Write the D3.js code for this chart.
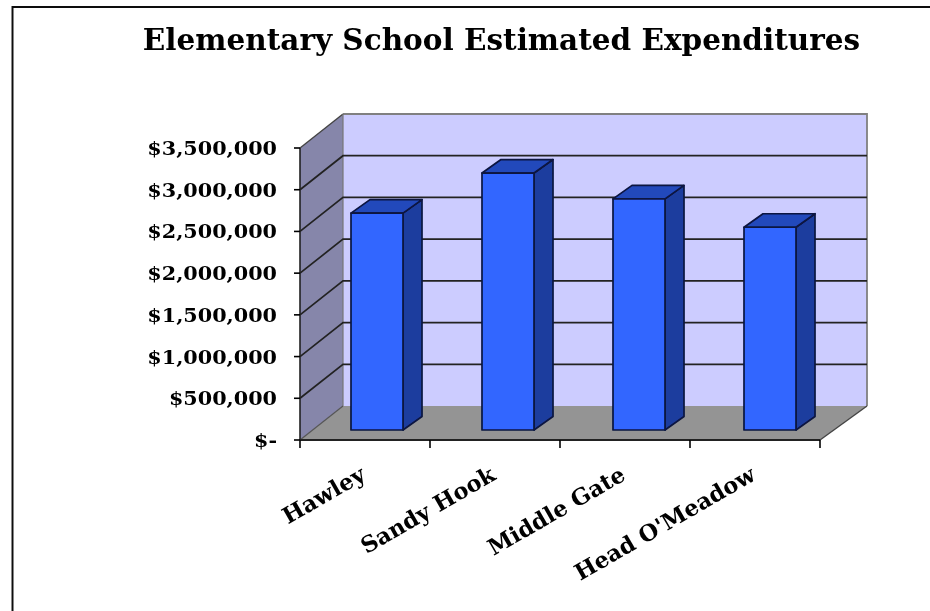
<!DOCTYPE html>
<html><head><meta charset="utf-8"><script src="https://cdn.jsdelivr.net/npm/d3@7"></script>
<style>html,body{margin:0;padding:0;background:#fff}svg{display:block}text{font-family:"DejaVu Serif","Liberation Serif",serif;font-weight:bold;fill:#000}</style></head><body>
<svg id="c" width="930" height="611"></svg>
<script>
const title = "Elementary School Estimated Expenditures";
const categories = ["Hawley","Sandy Hook","Middle Gate","Head O'Meadow"];
const values = [2600000,3080000,2770000,2430000];
const tickValues = [0,500000,1000000,1500000,2000000,2500000,3000000,3500000];
const tickLabels = ["$-","$500,000","$1,000,000","$1,500,000","$2,000,000","$2,500,000","$3,000,000","$3,500,000"];

const svg = d3.select("#c");
const defs = svg.append("defs");
defs.append("filter").attr("id","soft").attr("x","-5%").attr("y","-5%").attr("width","110%").attr("height","110%")
  .append("feGaussianBlur").attr("stdDeviation",0.55);
const g = svg.append("g").attr("filter","url(#soft)");

const y = d3.scaleLinear().domain([0,3500000]).range([440,148]);
const x = d3.scaleBand().domain(categories).range([300,820]).paddingInner(0);
const xBar = d3.scaleBand().domain(categories).range([311.5,835.5]).paddingInner(0);
const depthX = 43, depthY = -34, backR = 867;
const barW = 52, barDx = 19, barDy = -13.5, baseDy = -10;
const pts = a => a.map(p=>p.join(",")).join(" ");

g.append("rect").attr("x",12.5).attr("y",7).attr("width",1000).attr("height",800)
 .attr("fill","#fff").attr("stroke","#111").attr("stroke-width",2);

const L = x.range()[0], R = x.range()[1], B = y(0), T = y(3500000);
g.append("polygon").attr("points",pts([[L,B],[L,T],[L+depthX,T+depthY],[L+depthX,B+depthY]])).attr("fill","#8686aa");
g.append("rect").attr("x",L+depthX).attr("y",T+depthY).attr("width",backR-L-depthX).attr("height",B-T).attr("fill","#ccccff");
g.append("polygon").attr("points",pts([[L,B],[R,B],[backR,B+depthY],[L+depthX,B+depthY]])).attr("fill","#949494");
g.append("path").attr("d",`M${L+depthX},${T+depthY}H${backR}V${B+depthY}`).attr("fill","none").attr("stroke","#808080").attr("stroke-width",1.8);
g.append("path").attr("d",`M${L},${T}L${L+depthX},${T+depthY}`).attr("stroke","#444").attr("stroke-width",1.4);
g.append("line").attr("x1",L+depthX).attr("x2",L+depthX).attr("y1",T+depthY).attr("y2",B+depthY).attr("stroke","#777").attr("stroke-width",1.2);
g.append("path").attr("d",`M${L},${B}L${L+depthX},${B+depthY}`).attr("stroke","#555").attr("stroke-width",1.2);
g.append("path").attr("d",`M${R},${B}L${backR},${B+depthY}`).attr("stroke","#444").attr("stroke-width",1.4);

g.selectAll(".grid").data(tickValues.slice(1,-1)).join("path").attr("class","grid")
 .attr("d",v=>`M${L},${y(v)}L${L+depthX},${y(v)+depthY}H${backR}`)
 .attr("fill","none").attr("stroke","#222").attr("stroke-width",1.7);

g.append("line").attr("x1",L).attr("x2",L).attr("y1",T).attr("y2",B).attr("stroke","#222").attr("stroke-width",1.6);
g.append("line").attr("x1",L).attr("x2",R).attr("y1",B).attr("y2",B).attr("stroke","#222").attr("stroke-width",2);
g.selectAll(".yt").data(tickValues).join("line").attr("class","yt")
 .attr("x1",L-6).attr("x2",L).attr("y1",d=>y(d)).attr("y2",d=>y(d)).attr("stroke","#000").attr("stroke-width",1.6);
const xTicks = categories.map(c=>x(c)).concat([R]);
g.selectAll(".xt").data(xTicks).join("line").attr("class","xt")
 .attr("x1",d=>d).attr("x2",d=>d).attr("y1",B).attr("y2",B+8).attr("stroke","#000").attr("stroke-width",1.6);

const bars = g.selectAll(".bar").data(categories.map((c,i)=>({c,v:values[i]}))).join("g").attr("class","bar")
 .attr("stroke","#0a1440").attr("stroke-width",1.7).attr("stroke-linejoin","round");
const bx = d => xBar(d.c)+xBar.bandwidth()/2-barW/2;
const by0 = y(0)+baseDy;
const bt = d => y(d.v)+baseDy;
bars.append("polygon").attr("points",d=>pts([[bx(d)+barW,by0],[bx(d)+barW,bt(d)],[bx(d)+barW+barDx,bt(d)+barDy],[bx(d)+barW+barDx,by0+barDy]])).attr("fill","#1f3d9e");
bars.append("polygon").attr("points",d=>pts([[bx(d),bt(d)],[bx(d)+barW,bt(d)],[bx(d)+barW+barDx,bt(d)+barDy],[bx(d)+barDx,bt(d)+barDy]])).attr("fill","#2448bb");
bars.append("rect").attr("x",bx).attr("y",bt).attr("width",barW).attr("height",d=>by0-bt(d)).attr("fill","#3366ff");

g.append("text").attr("x",501.5).attr("y",50).attr("text-anchor","middle").attr("font-size",29.5).text(title);
g.selectAll(".yl").data(tickValues).join("text").attr("class","yl")
 .attr("x",277).attr("y",d=>y(d)+7).attr("text-anchor","end").attr("font-size",18).text((d,i)=>tickLabels[i])
 .attr("lengthAdjust","spacingAndGlyphs").attr("textLength",function(){return this.getComputedTextLength()*1.15;});
g.selectAll(".xl").data(categories).join("text").attr("class","xl")
 .attr("text-anchor","end").attr("font-size",22.5)
 .attr("transform",d=>`translate(${x(d)+x.bandwidth()/2+2},${B+39}) rotate(-30)`).text(d=>d);
</script></body></html>
